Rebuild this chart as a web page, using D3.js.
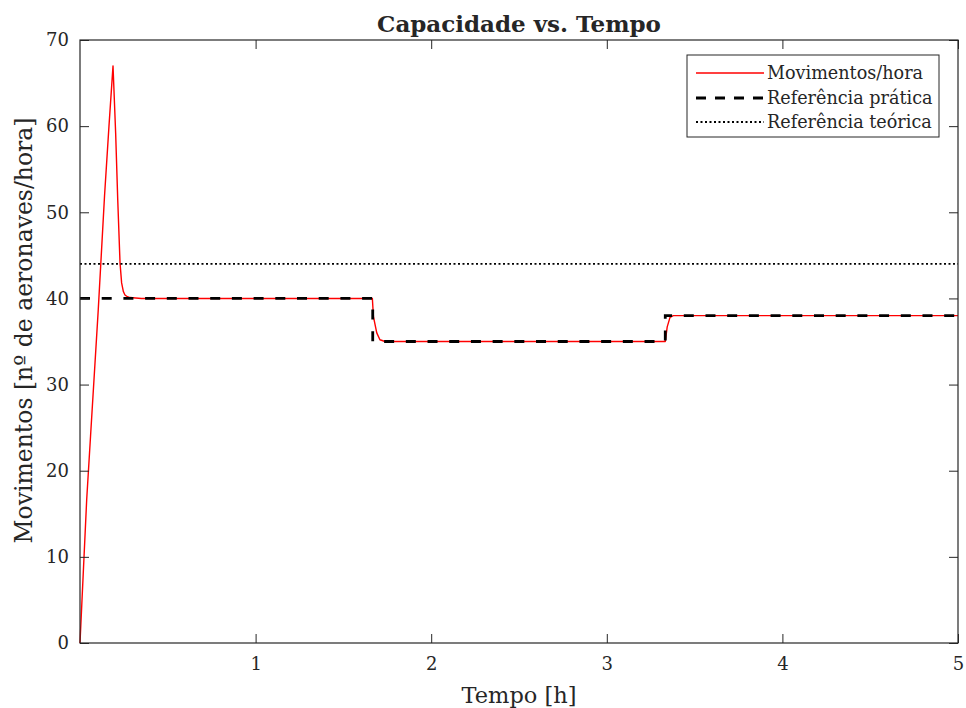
<!DOCTYPE html>
<html>
<head>
<meta charset="utf-8">
<script src="https://cdn.jsdelivr.net/npm/d3@7"></script>
<style>
  html, body { margin: 0; padding: 0; background: #ffffff; }
  svg { display: block; }
  text { font-family: "DejaVu Serif", "Liberation Serif", serif; fill: #262626; }
</style>
</head>
<body>
<svg id="chart" width="966" height="708"></svg>
<script>
// ---- data ----
const movTime  = [0, 0.038, 0.06, 0.104, 0.14, 0.165, 0.188, 0.203, 0.215, 0.228, 0.237, 0.247, 0.256, 0.27, 0.285, 0.35,
                  1.665, 1.671, 1.69, 1.708, 1.737, 1.8, 3.333, 3.344, 3.36, 3.379, 3.45, 5];
const movValue = [0, 16.6, 24, 38.7, 52, 60, 67, 59.2, 51.4, 44.1, 41.8, 40.8, 40.4, 40.2, 40.1, 40,
                  40, 37.9, 36.0, 35.2, 35.0, 35, 35, 36.7, 37.8, 38.0, 38, 38];
const pratTime  = [0, 1.667, 1.667, 3.333, 3.333, 5];
const pratValue = [40, 40, 35, 35, 38, 38];
const teoTime  = [0, 5];
const teoValue = [44, 44];
const xTicks = [1, 2, 3, 4, 5];
const yTicks = [0, 10, 20, 30, 40, 50, 60, 70];
const seriesNames = ["Movimentos/hora", "Referência prática", "Referência teórica"];
const titleText = "Capacidade vs. Tempo";
const xLabelText = "Tempo [h]";
const yLabelText = "Movimentos [nº de aeronaves/hora]";

// ---- layout ----
const svg = d3.select("#chart");
const L = 80, R = 958, T = 40, B = 643;
const x = d3.scaleLinear().domain([0, 5]).range([L, R]);
const y = d3.scaleLinear().domain([0, 70]).range([B, T]);
const axisColor = "#262626";
const tickLen = 9;

svg.append("rect").attr("x", L).attr("y", T).attr("width", R - L).attr("height", B - T)
  .attr("fill", "#ffffff");

const zip = (a, b) => a.map((d, i) => [d, b[i]]);
const line = d3.line().x(d => x(d[0])).y(d => y(d[1]));

const redStyle = { stroke: "#ff0000", w: 1.4, dash: null };
const dashStyle = { stroke: "#000000", w: 2.8, dash: "10,11.7" };
const dotStyle = { stroke: "#000000", w: 1.8, dash: "2,2.5" };

const plot = svg.append("g");
plot.append("path").datum(zip(movTime, movValue))
  .attr("d", line).attr("fill", "none").attr("stroke", redStyle.stroke).attr("stroke-width", redStyle.w)
  .attr("stroke-linejoin", "round");
plot.append("path").datum(zip(pratTime, pratValue))
  .attr("d", line).attr("fill", "none").attr("stroke", dashStyle.stroke).attr("stroke-width", dashStyle.w)
  .attr("stroke-dasharray", dashStyle.dash);
plot.append("path").datum(zip(teoTime, teoValue))
  .attr("d", line).attr("fill", "none").attr("stroke", dotStyle.stroke).attr("stroke-width", dotStyle.w)
  .attr("stroke-dasharray", dotStyle.dash);

// axes (MATLAB box style, ticks inward on all sides)
const fmt = d3.format("d");
const axB = d3.axisBottom(x).tickValues(xTicks).tickFormat(fmt).tickSizeInner(-tickLen).tickSizeOuter(0).tickPadding(14);
const axT = d3.axisTop(x).tickValues(xTicks).tickFormat("").tickSizeInner(-tickLen).tickSizeOuter(0);
const axLft = d3.axisLeft(y).tickValues(yTicks).tickFormat(fmt).tickSizeInner(-tickLen).tickSizeOuter(0).tickPadding(11);
const axRgt = d3.axisRight(y).tickValues(yTicks).tickFormat("").tickSizeInner(-tickLen).tickSizeOuter(0);

function styleAxis(g) {
  g.select(".domain").remove();
  g.selectAll(".tick line").attr("stroke", axisColor).attr("stroke-width", 1);
  g.selectAll(".tick text").attr("fill", axisColor).style("font-size", "18px")
    .style("font-family", '"DejaVu Serif", "Liberation Serif", serif');
}
svg.append("g").attr("transform", `translate(0,${B})`).call(axB).call(styleAxis);
svg.append("g").attr("transform", `translate(0,${T})`).call(axT).call(styleAxis);
svg.append("g").attr("transform", `translate(${L},0)`).call(axLft).call(styleAxis);
svg.append("g").attr("transform", `translate(${R},0)`).call(axRgt).call(styleAxis);

svg.append("rect").attr("x", L).attr("y", T).attr("width", R - L).attr("height", B - T)
  .attr("fill", "none").attr("stroke", axisColor).attr("stroke-width", 1.2);

// title & labels
svg.append("text").attr("x", (L + R) / 2).attr("y", 32).attr("text-anchor", "middle")
  .style("font-size", "23px").style("font-weight", "bold").attr("fill", "#000").text(titleText);
svg.append("text").attr("x", (L + R) / 2).attr("y", 703).attr("text-anchor", "middle")
  .style("font-size", "22.5px").text(xLabelText);
svg.append("text").attr("transform", `translate(32,${(T + B) / 2 - 11}) rotate(-90)`).attr("text-anchor", "middle")
  .style("font-size", "23.5px").text(yLabelText);

// legend
const lg = svg.append("g");
const lgX = 687, lgY = 55, lgW = 252, lgH = 82;
lg.append("rect").attr("x", lgX).attr("y", lgY).attr("width", lgW).attr("height", lgH)
  .attr("fill", "#ffffff").attr("stroke", axisColor).attr("stroke-width", 1);
const rowsY = [73, 98, 122];
const legStyles = [redStyle, { stroke: "#000000", w: 2.8, dash: "10,9" }, dotStyle];
seriesNames.forEach((name, i) => {
  const s = legStyles[i];
  const l = lg.append("line").attr("x1", 696).attr("x2", 764).attr("y1", rowsY[i]).attr("y2", rowsY[i])
    .attr("stroke", s.stroke).attr("stroke-width", s.w);
  if (s.dash) l.attr("stroke-dasharray", s.dash);
  lg.append("text").attr("x", 767).attr("y", rowsY[i]).attr("dy", "0.35em")
    .style("font-size", "17.6px").attr("fill", "#000").text(name);
});
</script>
</body>
</html>
